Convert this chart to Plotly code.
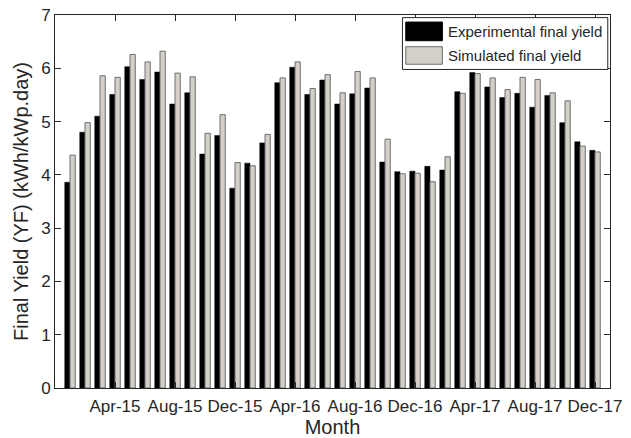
import plotly.graph_objects as go

months = [f"{m}-{y}" for y in ("15", "16", "17") for m in
          ("Jan", "Feb", "Mar", "Apr", "May", "Jun", "Jul", "Aug", "Sep", "Oct", "Nov", "Dec")]

experimental = [3.86, 4.80, 5.10, 5.51, 6.03, 5.79, 5.93, 5.33, 5.54, 4.39, 4.74, 3.75,
                4.22, 4.60, 5.73, 6.02, 5.51, 5.78, 5.33, 5.52, 5.63, 4.24, 4.06, 4.07,
                4.16, 4.09, 5.56, 5.92, 5.65, 5.45, 5.53, 5.27, 5.49, 4.98, 4.62, 4.46]

simulated = [4.37, 4.98, 5.86, 5.83, 6.26, 6.12, 6.32, 5.91, 5.84, 4.78, 5.13, 4.23,
             4.17, 4.76, 5.82, 6.12, 5.62, 5.88, 5.54, 5.94, 5.82, 4.67, 4.02, 4.03,
             3.87, 4.34, 5.53, 5.90, 5.82, 5.60, 5.83, 5.79, 5.54, 5.39, 4.54, 4.43]

tick_labels = ["Apr-15", "Aug-15", "Dec-15", "Apr-16", "Aug-16", "Dec-16", "Apr-17", "Aug-17", "Dec-17"]
series_names = ["Experimental final yield", "Simulated final yield"]

TXT = "#262626"
FONT = "Liberation Sans, Arial, sans-serif"

fig = go.Figure()
fig.add_trace(go.Bar(x=months, y=experimental, name=series_names[0],
                     marker=dict(color="black", line=dict(color="black", width=0.5))))
fig.add_trace(go.Bar(x=months, y=simulated, name=series_names[1],
                     marker=dict(color="#d4d0c8", line=dict(color="#6e6e6e", width=1))))

fig.update_layout(
    width=631, height=438,
    margin=dict(l=55, r=21, t=15, b=50),
    paper_bgcolor="white", plot_bgcolor="white",
    barmode="group", bargap=0.3, bargroupgap=0,
    showlegend=False,
    font=dict(family=FONT, color=TXT, size=17),
)
fig.update_xaxes(
    type="category", categoryorder="array", categoryarray=months,
    range=[-1, len(months)], automargin=False,
    tickmode="array", tickvals=tick_labels, ticktext=tick_labels,
    ticks="inside", ticklen=6, tickcolor=TXT, ticklabelstandoff=3,
    showline=True, linecolor=TXT, linewidth=1, mirror="allticks",
    showgrid=False, zeroline=False,
    tickfont=dict(size=17, color=TXT),
    title=dict(text="Month", font=dict(size=20, color=TXT), standoff=3),
)
fig.update_yaxes(
    range=[0, 7], dtick=1, automargin=False,
    ticks="inside", ticklen=6, tickcolor=TXT,
    showline=True, linecolor=TXT, linewidth=1, mirror="allticks",
    showgrid=False, zeroline=False,
    tickfont=dict(size=17, color=TXT),
    title=dict(text="Final Yield (YF) (kWh/kWp.day)", font=dict(size=20, color=TXT), standoff=7),
)

# Manual legend (box with large swatches)
fig.add_shape(type="rect", xref="paper", yref="paper", x0=0.626, x1=0.996, y0=0.854, y1=0.993,
              fillcolor="white", line=dict(color=TXT, width=1), layer="above")
fig.add_shape(type="rect", xref="paper", yref="paper", x0=0.632, x1=0.698, y0=0.931, y1=0.981,
              fillcolor="black", line=dict(color="black", width=1), layer="above")
fig.add_shape(type="rect", xref="paper", yref="paper", x0=0.632, x1=0.698, y0=0.868, y1=0.915,
              fillcolor="#d4d0c8", line=dict(color="#6e6e6e", width=1), layer="above")
for name, yc in zip(series_names, [0.956, 0.892]):
    fig.add_annotation(xref="paper", yref="paper", x=0.704, y=yc, text=name, showarrow=False,
                       xanchor="left", yanchor="middle", font=dict(size=15, color=TXT, family=FONT))

fig.write_html("out.html")
